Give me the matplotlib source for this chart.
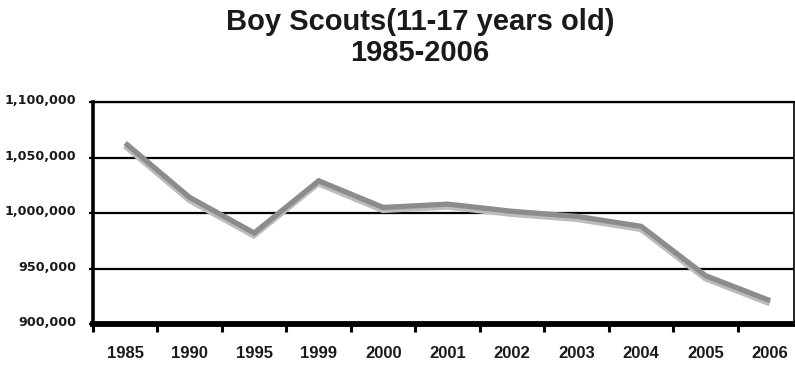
import numpy as np
import matplotlib
matplotlib.use('Agg')
import matplotlib.pyplot as plt
import matplotlib.transforms as mtransforms
from matplotlib.ticker import FuncFormatter, FixedLocator


# Data
years = ['1985', '1990', '1995', '1999', '2000', '2001',
         '2002', '2003', '2004', '2005', '2006']
members = [1063000, 1014000, 982000, 1029000, 1005000, 1008000,
           1001500, 997000, 988000, 943500, 921000]
y_ticks = [900000, 950000, 1000000, 1050000, 1100000]

# Plot
fig = plt.figure(figsize=(7.95, 3.68), dpi=100)
fig.patch.set_facecolor('white')
ax = fig.add_axes([93/795, 44/368, 701/795, 222/368])

x = np.arange(len(years))

# shadow line, shifted a few pixels down
shadow = mtransforms.offset_copy(ax.transData, fig=fig, x=-0.5, y=-3, units='dots')
ax.plot(x, members, color='#bcbcbc', lw=3.8, solid_joinstyle='miter',
        solid_capstyle='butt', transform=shadow, zorder=3)
ax.plot(x, members, color='#8c8c8c', lw=3.8, solid_joinstyle='miter',
        solid_capstyle='butt', zorder=4)

ax.set_xlim(-0.5, 10.37)
ax.set_ylim(900000, 1100000)

# gridlines
ax.yaxis.set_major_locator(FixedLocator(y_ticks))
ax.yaxis.grid(True, color='black', lw=1.6)
ax.set_axisbelow(True)

# spines
ax.spines['left'].set_linewidth(2.6)
ax.spines['bottom'].set_linewidth(4.2)
ax.spines['top'].set_linewidth(1.6)
ax.spines['right'].set_linewidth(1.2)
for s in ax.spines.values():
    s.set_color('black')

# x ticks: marks between categories, labels centered
ax.set_xticks(x)
ax.set_xticklabels(years, fontfamily='Liberation Sans', fontweight='bold',
                   fontsize=12, color='#1a1a1a')
ax.set_xticks(np.arange(len(years)) - 0.5, minor=True)
ax.tick_params(axis='x', which='major', length=0, pad=16)
ax.tick_params(axis='x', which='minor', length=6, width=2.2, color='black')

# y ticks
ax.yaxis.set_major_formatter(FuncFormatter(lambda v, p: f'{int(v):,}'))
ax.tick_params(axis='y', length=3, width=1.6, color='black', pad=9)
for lbl in ax.get_yticklabels():
    lbl.set_fontfamily('DejaVu Sans')
    lbl.set_fontweight('bold')
    lbl.set_fontsize(9.2)
    lbl.set_color('#1a1a1a')
    lbl.set_transform(lbl.get_transform() + mtransforms.ScaledTranslation(0, 2/72, fig.dpi_scale_trans))

# Title
fig.text(420/795, 1 - 30/368, 'Boy Scouts(11-17 years old)', ha='center', va='baseline',
         fontfamily='Liberation Sans', fontweight='bold', fontsize=21, color='#1a1a1a')
fig.text(420/795, 1 - 61/368, '1985-2006', ha='center', va='baseline',
         fontfamily='Liberation Sans', fontweight='bold', fontsize=21, color='#1a1a1a')

plt.savefig('out.png', dpi=100, facecolor='white')
